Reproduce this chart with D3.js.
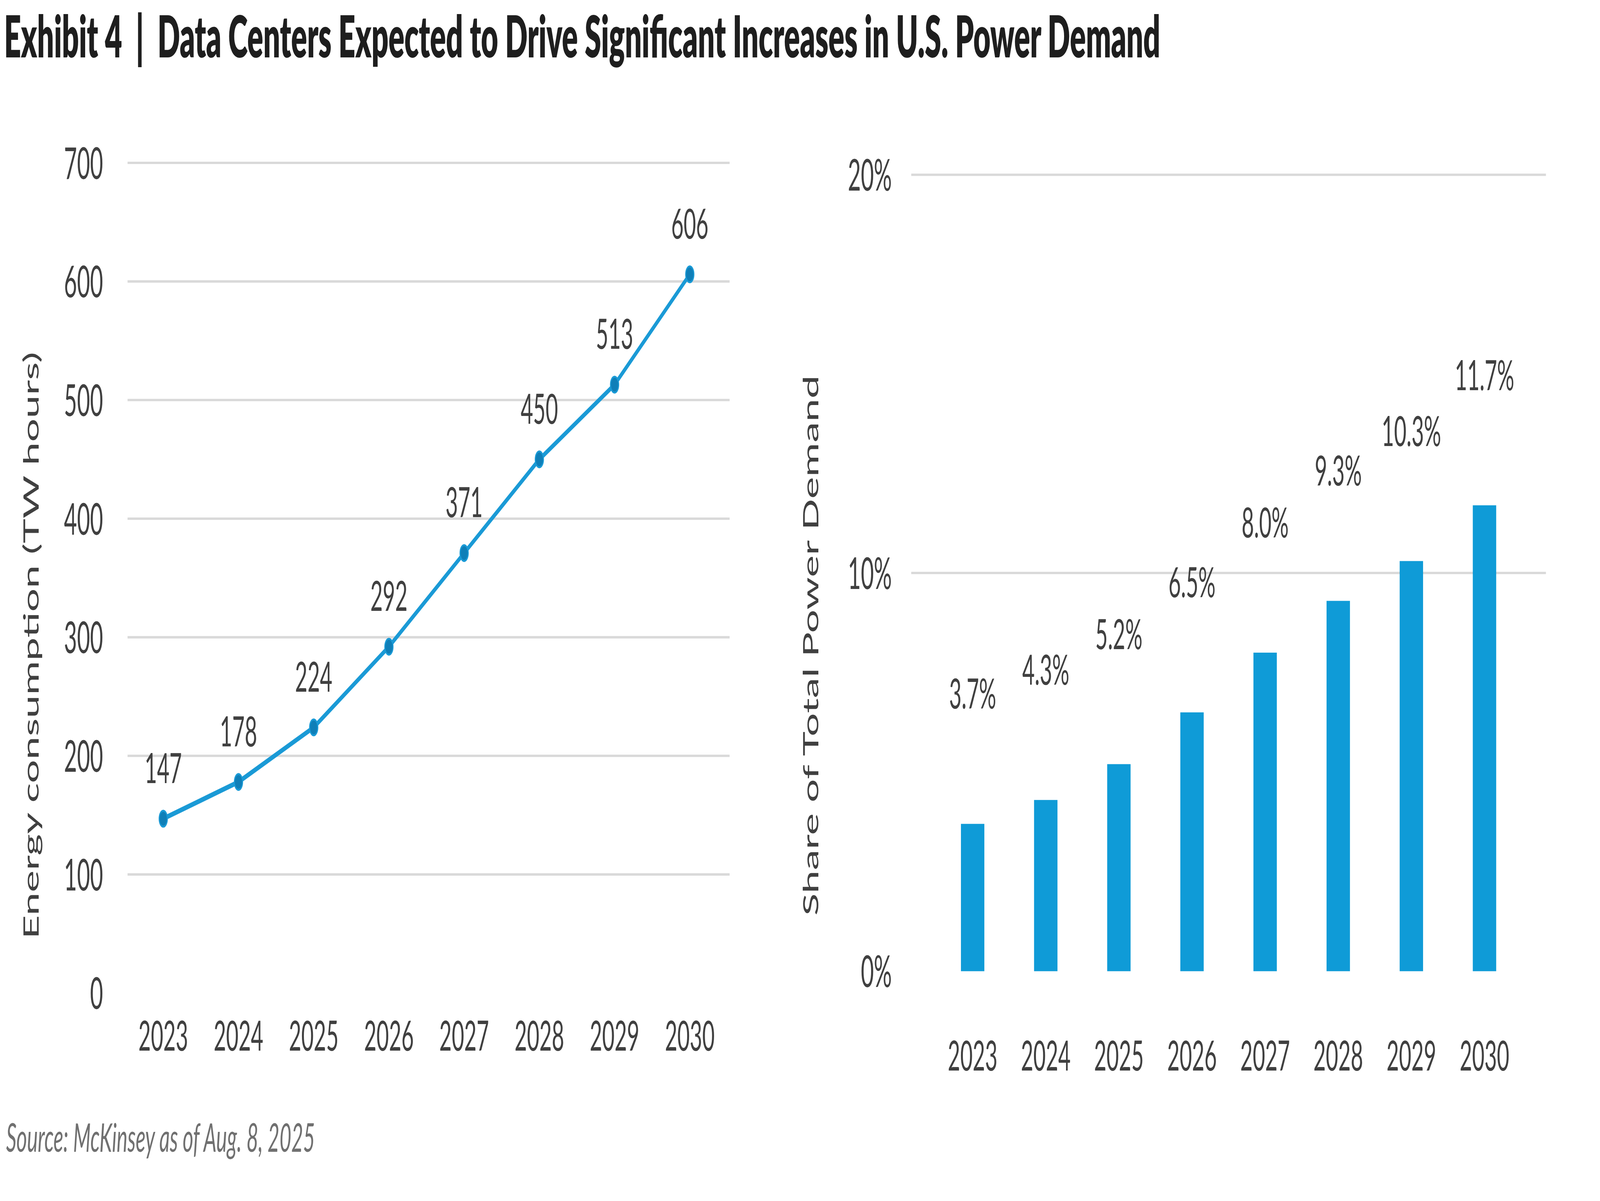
<!DOCTYPE html>
<html><head><meta charset="utf-8">
<script src="https://cdn.jsdelivr.net/npm/d3@7"></script>
<style>html,body{margin:0;padding:0;background:#fff;overflow:hidden;width:100%;height:100%}svg{display:block}</style></head>
<body><svg id="c"></svg>
<script>
const years = ["2023","2024","2025","2026","2027","2028","2029","2030"];
const energy = [147,178,224,292,371,450,513,606];
const share = [3.7,4.3,5.2,6.5,8.0,9.3,10.3,11.7];
const leftTicks = [0,100,200,300,400,500,600,700];
const rightTicks = [0,10,20];

const W=1568,H=604.7;
const svg=d3.select("#c").attr("width","100vw").attr("height","100vh").attr("viewBox",`0 0 ${W} ${H}`)
  .attr("preserveAspectRatio","none")
  .style("font-family","Lato, 'Open Sans', sans-serif");
const txt="#404040", grid="#d9d9d9", blue="#1a9ad6";

svg.append("text").attr("x",4).attr("y",29).attr("font-size",29).attr("font-weight",800).attr("fill","#1e1e1e")
  .attr("xml:space","preserve").style("white-space","pre")
  .text("Exhibit 4  |  Data Centers Expected to Drive Significant Increases in U.S. Power Demand");
svg.append("text").attr("x",6).attr("y",580).attr("font-size",20).attr("font-style","italic").attr("fill","#707070")
  .text("Source: McKinsey as of Aug. 8, 2025");

// Left chart
const xL=d3.scalePoint().domain(years).range([160,676]);
const yL=d3.scaleLinear().domain([0,700]).range([500,82]);
const gL=svg.append("g");
gL.selectAll("line.g").data(leftTicks.slice(1)).join("line").attr("x1",125).attr("x2",715)
  .attr("y1",d=>yL(d)).attr("y2",d=>yL(d)).attr("stroke",grid).attr("stroke-width",1.2);
gL.selectAll("text.t").data(leftTicks).join("text").attr("x",101).attr("y",d=>yL(d)+8).attr("text-anchor","end")
  .attr("font-size",22).attr("fill",txt).text(d=>d);
gL.selectAll("text.x").data(years).join("text").attr("x",d=>xL(d)).attr("y",529).attr("text-anchor","middle")
  .attr("font-size",21).attr("fill",txt).text(d=>d);
gL.append("path").datum(energy).attr("fill","none").attr("stroke",blue).attr("stroke-width",2.5)
  .attr("d",d3.line().x((d,i)=>xL(years[i])).y(d=>yL(d)));
gL.selectAll("circle").data(energy).join("circle").attr("cx",(d,i)=>xL(years[i])).attr("cy",d=>yL(d))
  .attr("r",4).attr("fill","#0f7fb8").attr("stroke",blue);
gL.selectAll("text.v").data(energy).join("text").attr("x",(d,i)=>xL(years[i])).attr("y",d=>yL(d)-18)
  .attr("text-anchor","middle").attr("font-size",21).attr("fill",txt).text(d=>d);
svg.append("text").attr("transform","translate(38,325) rotate(-90)").attr("text-anchor","middle")
  .attr("font-size",21).attr("fill",txt).text("Energy consumption (TW hours)");

// Right chart
const xR=d3.scaleBand().domain(years).range([893,1515]).padding(0.68);
const yR=d3.scaleLinear().domain([0,20]).range([489,88]);
const gR=svg.append("g");
gR.selectAll("line").data(rightTicks.slice(1)).join("line").attr("x1",893).attr("x2",1515)
  .attr("y1",d=>yR(d)).attr("y2",d=>yR(d)).attr("stroke",grid).attr("stroke-width",1.2);
gR.selectAll("text.t").data(rightTicks).join("text").attr("x",874).attr("y",d=>yR(d)+8).attr("text-anchor","end")
  .attr("font-size",22).attr("fill",txt).text(d=>d+"%");
gR.selectAll("rect").data(share).join("rect").attr("x",(d,i)=>xR(years[i])).attr("width",xR.bandwidth())
  .attr("y",d=>yR(d)).attr("height",d=>yR(0)-yR(d)).attr("fill","#0f9bd7");
gR.selectAll("text.v").data(share).join("text").attr("x",(d,i)=>xR(years[i])+xR.bandwidth()/2).attr("y",d=>yR(d)-58)
  .attr("text-anchor","middle").attr("font-size",21).attr("fill",txt).text(d=>d.toFixed(1)+"%");
gR.selectAll("text.x").data(years).join("text").attr("x",d=>xR(d)+xR.bandwidth()/2).attr("y",539).attr("text-anchor","middle")
  .attr("font-size",21).attr("fill",txt).text(d=>d);
svg.append("text").attr("transform","translate(802,325) rotate(-90)").attr("text-anchor","middle")
  .attr("font-size",21).attr("fill",txt).text("Share of Total Power Demand");
</script></body></html>
